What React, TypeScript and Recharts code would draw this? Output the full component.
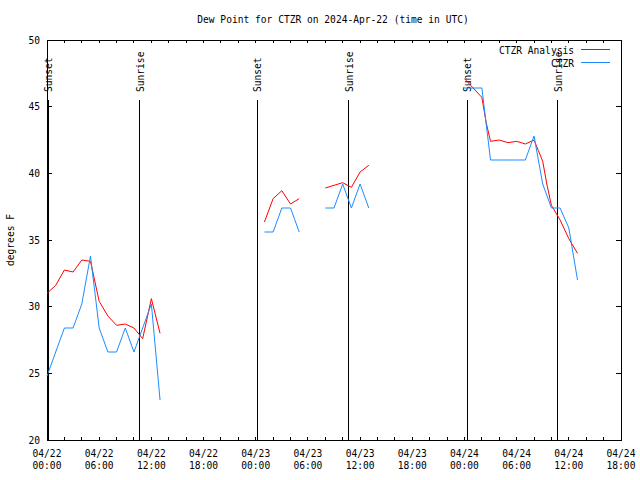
import { LineChart, Line, XAxis, YAxis, ReferenceLine, ReferenceArea, Legend } from 'recharts';

const FONT = '"DejaVu Sans Mono", monospace';
const PLOT_LEFT = 47;
const PLOT_RIGHT = 621;
const PLOT_TOP = 40;
const PLOT_BOTTOM = 440;

// hours since 04/22 00:00 UTC; null breaks the line
const analysisHours = [
  0, 1, 2, 3, 4, 5, 6, 7, 8, 9, 10, 11, 12, 13, 19,
  25, 26, 27, 28, 29, 30.5,
  32, 33, 34, 35, 36, 37, 42,
  48, 49, 50, 50.5, 51, 52, 53, 54, 55, 56, 56.5, 57, 57.5, 58, 59, 60, 61,
];
const analysisDew = [
  31.0, 31.6, 32.75, 32.6, 33.5, 33.4, 30.4, 29.3, 28.6, 28.7, 28.4, 27.6, 30.6, 28.0, null,
  36.35, 38.1, 38.7, 37.7, 38.1, null,
  38.9, 39.1, 39.3, 38.95, 40.1, 40.6, null,
  47.1, 46.4, 45.7, 43.8, 42.4, 42.5, 42.3, 42.4, 42.2, 42.5, 41.7, 40.9, 39.1, 37.6, 36.5, 35.1, 34.0,
];

const obsHours = [
  0, 1, 2, 3, 4, 5, 6, 7, 8, 9, 10, 11, 12, 13, 19,
  25, 26, 27, 28, 29, 30.5,
  32, 33, 34, 35, 36, 37, 42,
  48, 49, 50, 51, 52, 53, 54, 55, 56, 57, 58, 59, 60, 61,
];
const obsDew = [
  24.8, 26.6, 28.4, 28.4, 30.2, 33.8, 28.4, 26.6, 26.6, 28.4, 26.6, 28.4, 30.2, 23.0, null,
  35.6, 35.6, 37.4, 37.4, 35.6, null,
  37.4, 37.4, 39.2, 37.4, 39.2, 37.4, null,
  46.4, 46.4, 46.4, 41.0, 41.0, 41.0, 41.0, 41.0, 42.8, 39.2, 37.4, 37.4, 35.9, 32.0,
];

const sunHours = [0.15, 10.65, 24.2, 34.7, 48.3, 58.7];
const sunNames = ['Sunset', 'Sunrise', 'Sunset', 'Sunrise', 'Sunset', 'Sunrise'];

const xTicks = [0, 2, 4, 6, 8, 10, 12, 14, 16, 18, 20, 22, 24, 26, 28, 30, 32, 34, 36, 38, 40, 42, 44, 46, 48, 50, 52, 54, 56, 58, 60, 62, 64, 66];
const xMajor = [0, 6, 12, 18, 24, 30, 36, 42, 48, 54, 60, 66];
const xDates = ['04/22', '04/22', '04/22', '04/22', '04/23', '04/23', '04/23', '04/23', '04/24', '04/24', '04/24', '04/24'];
const xTimes = ['00:00', '06:00', '12:00', '18:00', '00:00', '06:00', '12:00', '18:00', '00:00', '06:00', '12:00', '18:00'];
const yTicks = [20, 25, 30, 35, 40, 45, 50];

const seriesNames = ['CTZR Analysis', 'CTZR'];

const analysisData = analysisHours.map((h, i) => ({ h, dew: analysisDew[i] }));
const obsData = obsHours.map((h, i) => ({ h, dew: obsDew[i] }));

const XTick = (props: any) => {
  const { x, payload } = props;
  const k = xMajor.indexOf(payload.value);
  return (
    <g>
      <line x1={x} x2={x} y1={PLOT_BOTTOM} y2={PLOT_BOTTOM - 3} stroke="#000" shapeRendering="crispEdges" />
      <line x1={x} x2={x} y1={PLOT_TOP} y2={PLOT_TOP + 3} stroke="#000" shapeRendering="crispEdges" />
      {k >= 0 && (
        <text x={x} textAnchor="middle" fontFamily={FONT} fontSize={9.6} fill="#000">
          <tspan x={x} y={457}>{xDates[k]}</tspan>
          <tspan x={x} y={469}>{xTimes[k]}</tspan>
        </text>
      )}
    </g>
  );
};

const YTick = (props: any) => {
  const { y, payload } = props;
  return (
    <g>
      <line x1={PLOT_LEFT} x2={PLOT_LEFT + 5} y1={y} y2={y} stroke="#000" shapeRendering="crispEdges" />
      <line x1={PLOT_RIGHT - 5} x2={PLOT_RIGHT} y1={y} y2={y} stroke="#000" shapeRendering="crispEdges" />
      <text x={40} y={y + 3.5} textAnchor="end" fontFamily={FONT} fontSize={9.6} fill="#000">
        {payload.value}
      </text>
    </g>
  );
};

const SunLabel = (props: any) => {
  const x = props.viewBox.x + 4;
  return (
    <text x={x} y={92} transform={`rotate(-90 ${x} 92)`} fontFamily={FONT} fontSize={9.6} fill="#000">
      {props.text}
    </text>
  );
};

const renderLegend = (props: any) => {
  const items = [...(props.payload || [])].sort(
    (a: any, b: any) => seriesNames.indexOf(a.value) - seriesNames.indexOf(b.value)
  );
  return (
    <svg width={160} height={30} style={{ display: 'block' }}>
      {items.map((e: any, i: number) => (
        <g key={e.value}>
          <text x={114} y={11.5 + i * 13} textAnchor="end" fontFamily={FONT} fontSize={9.6} fill="#000">
            {e.value}
          </text>
          <line x1={121} x2={150} y1={7.5 + i * 13} y2={7.5 + i * 13} stroke={e.color} />
        </g>
      ))}
    </svg>
  );
};

const App = () => {
  return (
    <div style={{ position: 'absolute', left: 0, top: 0, width: 640, height: 480, background: '#fff' }}>
      <LineChart
        width={640}
        height={480}
        margin={{ top: PLOT_TOP, right: 640 - PLOT_RIGHT, bottom: 0, left: 0 }}
      >
        <text x={333} y={23} textAnchor="middle" fontFamily={FONT} fontSize={9.6} fill="#000">
          Dew Point for CTZR on 2024-Apr-22 (time in UTC)
        </text>
        <text x={14} y={240} textAnchor="middle" transform="rotate(-90 14 240)" fontFamily={FONT} fontSize={9.6} fill="#000">
          degrees F
        </text>
        <XAxis
          dataKey="h"
          type="number"
          domain={[0, 66]}
          ticks={xTicks}
          interval={0}
          height={480 - PLOT_BOTTOM}
          axisLine={false}
          tickLine={false}
          tick={<XTick />}
          allowDuplicatedCategory={false}
        />
        <YAxis
          type="number"
          domain={[20, 50]}
          ticks={yTicks}
          interval={0}
          width={PLOT_LEFT}
          axisLine={false}
          tickLine={false}
          tick={<YTick />}
        />
        <ReferenceArea x1={0} x2={66} y1={20} y2={50} fill="none" stroke="#000" shapeRendering="crispEdges" />
        {sunHours.map((h, i) => (
          <ReferenceLine
            key={i}
            segment={[{ x: h, y: 45.5 }, { x: h, y: 20 }]}
            stroke="#000"
            shapeRendering="crispEdges"
            label={<SunLabel text={sunNames[i]} />}
          />
        ))}
        <Line
          data={analysisData}
          dataKey="dew"
          name={seriesNames[0]}
          type="linear"
          stroke="#ff0000"
          strokeWidth={1}
          dot={false}
          isAnimationActive={false}
        />
        <Line
          data={obsData}
          dataKey="dew"
          name={seriesNames[1]}
          type="linear"
          stroke="#1a8cff"
          strokeWidth={1}
          dot={false}
          isAnimationActive={false}
        />
        <Legend
          layout="vertical"
          align="center"
          verticalAlign="middle"
          wrapperStyle={{ left: 460, top: 42, width: 160 }}
          content={renderLegend}
        />
      </LineChart>
    </div>
  );
};

export default App;
